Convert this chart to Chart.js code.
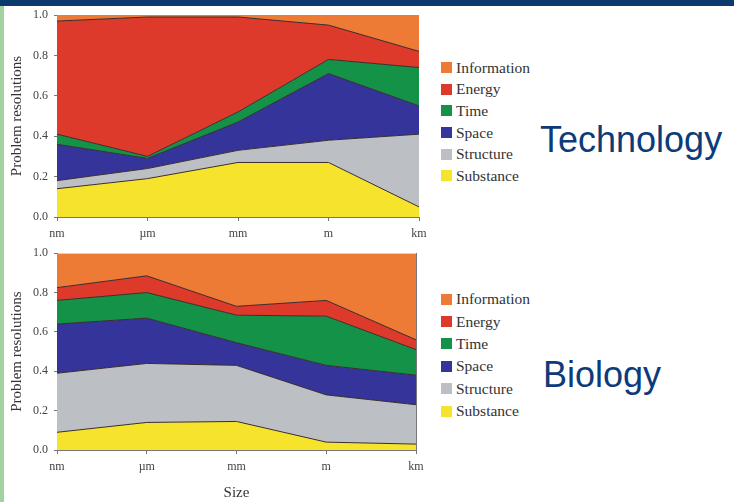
<!DOCTYPE html>
<html lang="en">
<head>
<meta charset="UTF-8">
<title>Problem resolutions by size: Technology vs Biology</title>
<script src="https://cdn.jsdelivr.net/npm/chart.js"></script>
<style>
  html, body { margin: 0; padding: 0; background: #fff; }
  body { width: 734px; height: 502px; position: relative; overflow: hidden; }
  #topBar { position: absolute; left: 0; top: 0; width: 734px; height: 6px; background: #0b3a6f; }
  #sideBar { position: absolute; left: 0; top: 6px; width: 4px; height: 496px; background: #a2d2a2; }
  canvas { position: absolute; left: 0; }
  .legend { position: absolute; left: 441px; font-family: "Liberation Serif", serif; font-size: 15.5px; color: #333; }
  .legend div { display: flex; align-items: center; }
  .legend span.box { width: 11px; height: 11px; margin-right: 4px; }
  .big { position: absolute; font-family: "Liberation Sans", Arial, sans-serif; font-size: 36px; line-height: 36px; color: #0d3b7a; }
</style>
</head>
<body>
<div id="topBar"></div>
<div id="sideBar"></div>

<canvas id="techChart" width="440" height="245" style="top:0px"></canvas>
<canvas id="bioChart" width="440" height="262" style="top:240px"></canvas>

<div class="legend" id="techLegend" style="top:57px"></div>
<div class="legend" id="bioLegend" style="top:288px"></div>

<div class="big" style="left:540px; top:122px">Technology</div>
<div class="big" style="left:543px; top:357px">Biology</div>

<script>
// categories (x axis)
var sizes = ['nm', 'µm', 'mm', 'm', 'km'];

// series names, bottom of the stack first
var seriesNames = ['Substance', 'Structure', 'Space', 'Time', 'Energy', 'Information'];

// Technology shares per size
var techSubstance   = [0.14, 0.19, 0.27, 0.27, 0.05];
var techStructure   = [0.04, 0.05, 0.06, 0.11, 0.36];
var techSpace       = [0.18, 0.05, 0.14, 0.33, 0.14];
var techTime        = [0.05, 0.01, 0.05, 0.07, 0.19];
var techEnergy      = [0.56, 0.69, 0.47, 0.17, 0.08];
var techInformation = [0.03, 0.01, 0.01, 0.05, 0.18];

// Biology shares per size
var bioSubstance   = [0.09, 0.14, 0.145, 0.04, 0.03];
var bioStructure   = [0.30, 0.30, 0.285, 0.24, 0.20];
var bioSpace       = [0.25, 0.23, 0.115, 0.15, 0.15];
var bioTime        = [0.12, 0.13, 0.14, 0.25, 0.13];
var bioEnergy      = [0.065, 0.085, 0.045, 0.08, 0.05];
var bioInformation = [0.175, 0.115, 0.27, 0.24, 0.44];

// y ticks
var yTicks = [0, 0.2, 0.4, 0.6, 0.8, 1.0];

var colors = ['#f6e42c', '#bcc0c5', '#34349b', '#149247', '#dd3a2c', '#ee7b35'];

var serif = 'Liberation Serif, serif';

function makeDatasets(seriesList) {
    return seriesList.map(function (vals, i) {
        return {
            label: seriesNames[i],
            data: vals,
            backgroundColor: colors[i],
            borderColor: '#3a2c2c',
            borderWidth: i === seriesList.length - 1 ? 0 : 1,
            fill: i === 0 ? 'origin' : '-1',
            pointRadius: 0,
            tension: 0
        };
    });
}

function makeOptions(pad, xHeight, showSize, rightBorder) {
    var scales = {
        x: {
            grid: { display: true, drawOnChartArea: false, drawTicks: true, tickLength: 4, color: '#777' },
            border: { display: true, color: '#777', width: 1 },
            ticks: { padding: 6, color: '#444', font: { family: serif, size: 12 }, maxRotation: 0, autoSkip: false },
            title: { display: showSize, text: 'Size', color: '#333', padding: { top: 0, bottom: 0 }, font: { family: serif, size: 15 } },
            afterFit: function (s) { s.height = xHeight; }
        },
        y: {
            stacked: true,
            min: 0,
            max: 1,
            afterBuildTicks: function (s) { s.ticks = yTicks.map(function (v) { return { value: v }; }); },
            grid: { display: true, drawOnChartArea: false, drawTicks: true, tickLength: 3, color: '#777' },
            border: { display: true, color: '#777', width: 1 },
            ticks: { padding: 6, color: '#444', font: { family: serif, size: 12 }, callback: function (v) { return v.toFixed(1); } },
            title: { display: true, text: 'Problem resolutions', color: '#333', padding: { top: 8, bottom: 0 }, font: { family: serif, size: 15 } },
            afterFit: function (s) { s.width = 57; }
        }
    };
    if (rightBorder) {
        scales.y2 = {
            position: 'right',
            min: 0,
            max: 1,
            grid: { display: false },
            border: { display: true, color: '#777', width: 1 },
            ticks: { display: false },
            afterFit: function (s) { s.width = 0; }
        };
    }
    return {
        responsive: false,
        animation: false,
        layout: { padding: pad },
        plugins: { legend: { display: false }, tooltip: { enabled: false } },
        scales: scales
    };
}

new Chart(document.getElementById('techChart'), {
    type: 'line',
    data: {
        labels: sizes,
        datasets: makeDatasets([techSubstance, techStructure, techSpace, techTime, techEnergy, techInformation])
    },
    options: makeOptions({ top: 15, right: 21, left: 0, bottom: 0 }, 28, false, false)
});

new Chart(document.getElementById('bioChart'), {
    type: 'line',
    data: {
        labels: sizes,
        datasets: makeDatasets([bioSubstance, bioStructure, bioSpace, bioTime, bioEnergy, bioInformation])
    },
    options: makeOptions({ top: 10, right: 24, left: 0, bottom: 0 }, 52, true, true)
});

// legends, top item is the top of the stack
function buildLegend(id, rowHeight) {
    var el = document.getElementById(id);
    for (var i = seriesNames.length - 1; i >= 0; i--) {
        var row = document.createElement('div');
        row.style.height = rowHeight + 'px';
        row.innerHTML = '<span class="box" style="background:' + colors[i] + '"></span>' + seriesNames[i];
        el.appendChild(row);
    }
}
buildLegend('techLegend', 21.6);
buildLegend('bioLegend', 22.4);
</script>
</body>
</html>
